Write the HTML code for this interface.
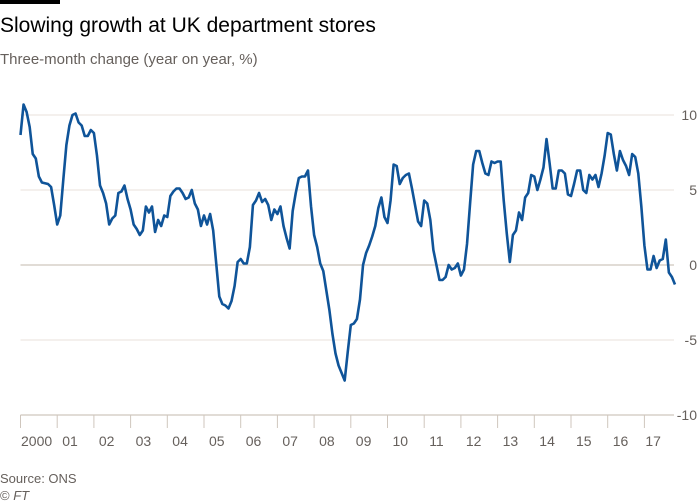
<!DOCTYPE html>
<html><head><meta charset="utf-8"><style>
body{margin:0;background:#fff;}
svg{display:block;font-family:"Liberation Sans",sans-serif;}
</style></head><body>
<svg id="chart" width="700" height="503" xmlns="http://www.w3.org/2000/svg">
<rect x="0" y="0" width="60" height="4" fill="#000"/>
<text x="0" y="32" font-size="21" fill="#000">Slowing growth at UK department stores</text>
<text x="0" y="64" font-size="15" fill="#66605c">Three-month change (year on year, %)</text>
<g id="grid"></g>
<g id="xaxis"></g>
<g id="series"></g>
<text x="0" y="483" font-size="13" fill="#66605c">Source: ONS</text>
<text x="0" y="500" font-size="13" fill="#66605c">© <tspan font-style="italic">FT</tspan></text>
</svg>
<script>
const yTicks=[10,5,0,-5,-10];
const yearLabels=["2000","01","02","03","04","05","06","07","08","09","10","11","12","13","14","15","16","17"];
const values=[8.67,10.7,10.2,9.2,7.4,7.1,5.9,5.5,5.45,5.4,5.2,4.0,2.7,3.3,5.7,8.0,9.3,10.0,10.1,9.5,9.3,8.6,8.6,9.0,8.8,7.3,5.3,4.8,4.1,2.7,3.1,3.3,4.8,4.9,5.3,4.4,3.7,2.7,2.4,2.0,2.3,3.9,3.5,3.9,2.2,3.0,2.6,3.3,3.2,4.6,4.9,5.1,5.1,4.8,4.4,4.5,5.0,4.1,3.7,2.6,3.3,2.7,3.4,2.3,0.1,-2.1,-2.6,-2.7,-2.9,-2.4,-1.4,0.2,0.4,0.1,0.1,1.2,4.0,4.3,4.8,4.2,4.4,4.0,3.0,3.7,3.4,3.9,2.6,1.8,1.1,3.6,4.8,5.8,5.9,5.9,6.3,3.9,2.0,1.2,0.1,-0.4,-1.7,-3.0,-4.6,-5.9,-6.7,-7.2,-7.7,-5.8,-4.0,-3.9,-3.6,-2.3,0.0,0.8,1.3,1.9,2.6,3.8,4.5,3.2,2.8,4.3,6.7,6.6,5.4,5.8,6.0,6.1,5.1,4.0,2.9,2.6,4.3,4.1,3.0,1.0,0.0,-1.0,-1.0,-0.8,0.0,-0.3,-0.2,0.1,-0.7,-0.3,1.4,4.1,6.7,7.6,7.6,6.8,6.1,6.0,6.9,6.8,6.9,6.9,4.3,2.1,0.2,2.0,2.3,3.5,3.0,4.5,4.8,6.0,5.9,5.0,5.7,6.5,8.4,6.8,5.1,5.1,6.3,6.3,6.1,4.7,4.6,5.4,6.3,6.3,5.0,4.8,6.0,5.7,6.0,5.2,6.1,7.3,8.8,8.7,7.4,6.3,7.6,7.0,6.6,6.0,7.4,7.2,6.1,3.9,1.3,-0.3,-0.3,0.6,-0.2,0.3,0.4,1.7,-0.5,-0.8,-1.3];
const NS="http://www.w3.org/2000/svg";
const X0=20.5,X1=675,YEAR=36.7;
function xScale(m){return X0+m*YEAR/12;}
function yScale(v){return 265-v*15;}
const grid=document.getElementById('grid');
yTicks.forEach(t=>{
  const l=document.createElementNS(NS,'line');
  
  
  l.setAttribute('x1',X0);l.setAttribute('x2',674);
  l.setAttribute('y1',yScale(t));l.setAttribute('y2',yScale(t));
  l.setAttribute('stroke',(t===0||t===-10)?'#cfc6bd':'#e9e2db');
  l.setAttribute('stroke-width',(t===0||t===-10)?1.3:1);
  grid.appendChild(l);
  const tx=document.createElementNS(NS,'text');
  
  
  tx.setAttribute('x',697);tx.setAttribute('y',yScale(t)+5);
  tx.setAttribute('text-anchor','end');tx.setAttribute('font-size','14');tx.setAttribute('fill','#66605c');
  tx.textContent=t;
  grid.appendChild(tx);
});
const xa=document.getElementById('xaxis');
yearLabels.forEach((lab,i)=>{
  const x=xScale(i*12);
  const l=document.createElementNS(NS,'line');
  
  
  l.setAttribute('x1',x);l.setAttribute('x2',x);l.setAttribute('y1',415);l.setAttribute('y2',428);
  l.setAttribute('stroke','#cfc6bd');l.setAttribute('stroke-width',1);
  xa.appendChild(l);
  const tx=document.createElementNS(NS,'text');
  
  
  tx.setAttribute('x',x+(i===0?0.5:(i===17?1:5)));tx.setAttribute('y',446);
  tx.setAttribute('font-size','14');tx.setAttribute('fill','#66605c');
  tx.textContent=lab;
  xa.appendChild(tx);
});
const p=document.createElementNS(NS,'path');


p.setAttribute('d',values.map((v,i)=>(i?'L':'M')+xScale(i).toFixed(2)+','+yScale(v).toFixed(2)).join(''));
p.setAttribute('fill','none');p.setAttribute('stroke','#0f5499');p.setAttribute('stroke-width','2.6');p.setAttribute('stroke-linejoin','round');
document.getElementById('series').appendChild(p);
</script>
</body></html>
